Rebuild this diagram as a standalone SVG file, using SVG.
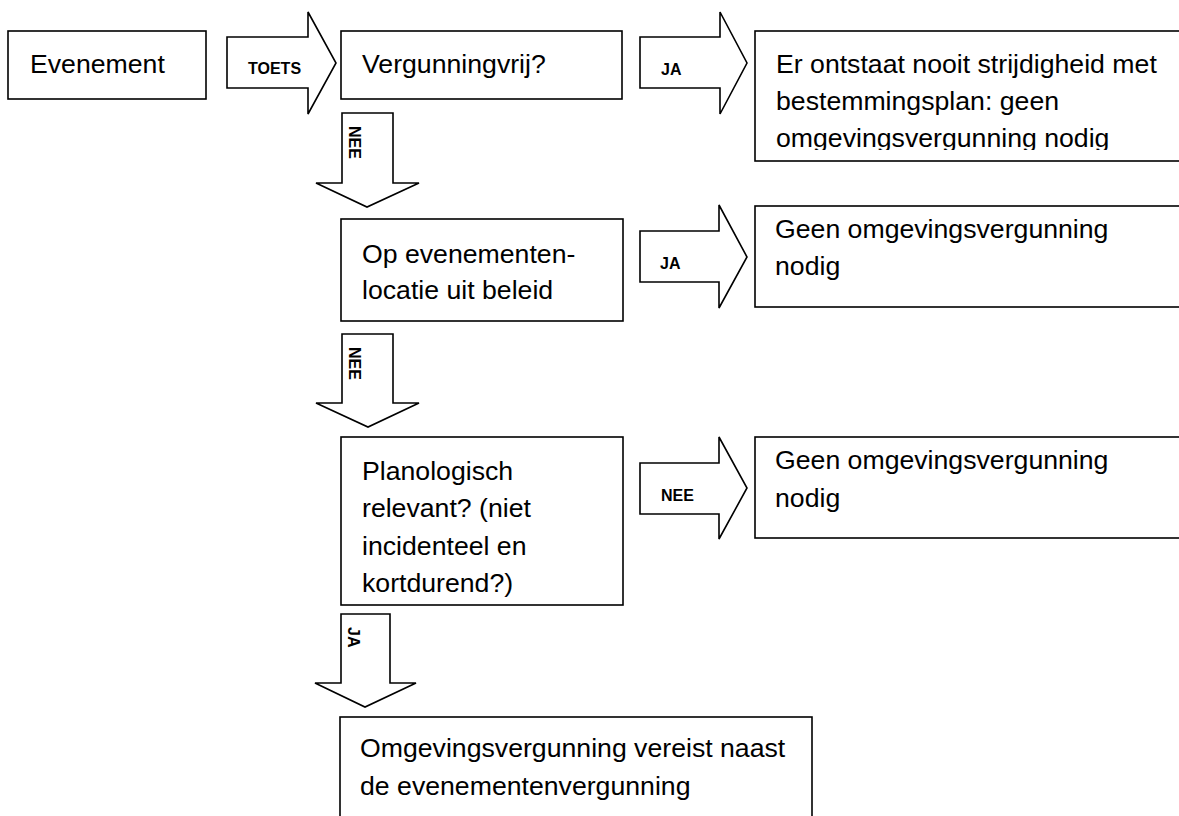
<svg xmlns="http://www.w3.org/2000/svg" width="1179" height="816" viewBox="0 0 1179 816">
<style>
.box{fill:#fff;stroke:#000;stroke-width:1.6}
.arr{fill:#fff;stroke:#000;stroke-width:1.6;stroke-linejoin:miter}
.t{font-family:"Liberation Sans",Arial,sans-serif;font-size:26.67px;fill:#000}
.l{font-family:"Liberation Sans",Arial,sans-serif;font-size:16px;font-weight:bold;fill:#000}
</style>
<defs>
<clipPath id="c1"><rect x="755" y="31" width="430" height="119"/></clipPath>
</defs>
<rect width="1179" height="816" fill="#fff"/>
<g id="connectors">
<g id="a-toets"><polygon class="arr" points="227,37 308,37 308,12 336,63 308,114 308,88 227,88"/><text class="l" x="248" y="74">TOETS</text></g>
<g id="a-ja1"><polygon class="arr" points="640,37 720,37 720,12 747,63 720,114 720,88 640,88"/><text class="l" x="661" y="75">JA</text></g>
<g id="a-nee1"><polygon class="arr" points="342,113 393,113 393,183 419,183 367,207 316,183 342,183"/><text class="l" transform="translate(349,126) rotate(90)">NEE</text></g>
<g id="a-ja2"><polygon class="arr" points="640,231 719,231 719,205 747,257 719,308 719,282 640,282"/><text class="l" x="660" y="269">JA</text></g>
<g id="a-nee2"><polygon class="arr" points="342,334 393,334 393,403 419,403 368,427 316,403 342,403"/><text class="l" transform="translate(349,347) rotate(90)">NEE</text></g>
<g id="a-nee3"><polygon class="arr" points="640,463 719,463 719,437 747,488 719,539 719,514 640,514"/><text class="l" x="661" y="501">NEE</text></g>
<g id="a-ja3"><polygon class="arr" points="341,614 390,614 390,683 416,683 365,707 315,683 341,683"/><text class="l" transform="translate(348,627) rotate(90)">JA</text></g>
</g>
<g id="n-evenement"><rect class="box" x="8" y="31" width="198" height="68"/><text class="t" x="30" y="73">Evenement</text></g>
<g id="n-vergunningvrij"><rect class="box" x="341" y="31" width="281" height="68"/><text class="t" x="362" y="73">Vergunningvrij?</text></g>
<g id="n-nooit"><rect class="box" x="755" y="31" width="430" height="130"/><g clip-path="url(#c1)"><text class="t" x="776" y="73">Er ontstaat nooit strijdigheid met</text><text class="t" x="776" y="110">bestemmingsplan: geen</text><text class="t" x="776" y="147">omgevingsvergunning nodig</text></g></g>
<g id="n-locatie"><rect class="box" x="341" y="219" width="282" height="102"/><text class="t" x="362" y="263">Op evenementen-</text><text class="t" x="362" y="299">locatie uit beleid</text></g>
<g id="n-geen1"><rect class="box" x="755" y="206" width="430" height="101"/><text class="t" x="775" y="238">Geen omgevingsvergunning</text><text class="t" x="775" y="275">nodig</text></g>
<g id="n-planologisch"><rect class="box" x="341" y="437" width="282" height="168"/><text class="t" x="362" y="480">Planologisch</text><text class="t" x="362" y="517">relevant? (niet</text><text class="t" x="362" y="555">incidenteel en</text><text class="t" x="362" y="592">kortdurend?)</text></g>
<g id="n-geen2"><rect class="box" x="755" y="437" width="430" height="101"/><text class="t" x="775" y="469">Geen omgevingsvergunning</text><text class="t" x="775" y="507">nodig</text></g>
<g id="n-vereist"><rect class="box" x="340" y="717" width="472" height="110"/><text class="t" x="360" y="757">Omgevingsvergunning vereist naast</text><text class="t" x="360" y="795">de evenementenvergunning</text></g>
</svg>
